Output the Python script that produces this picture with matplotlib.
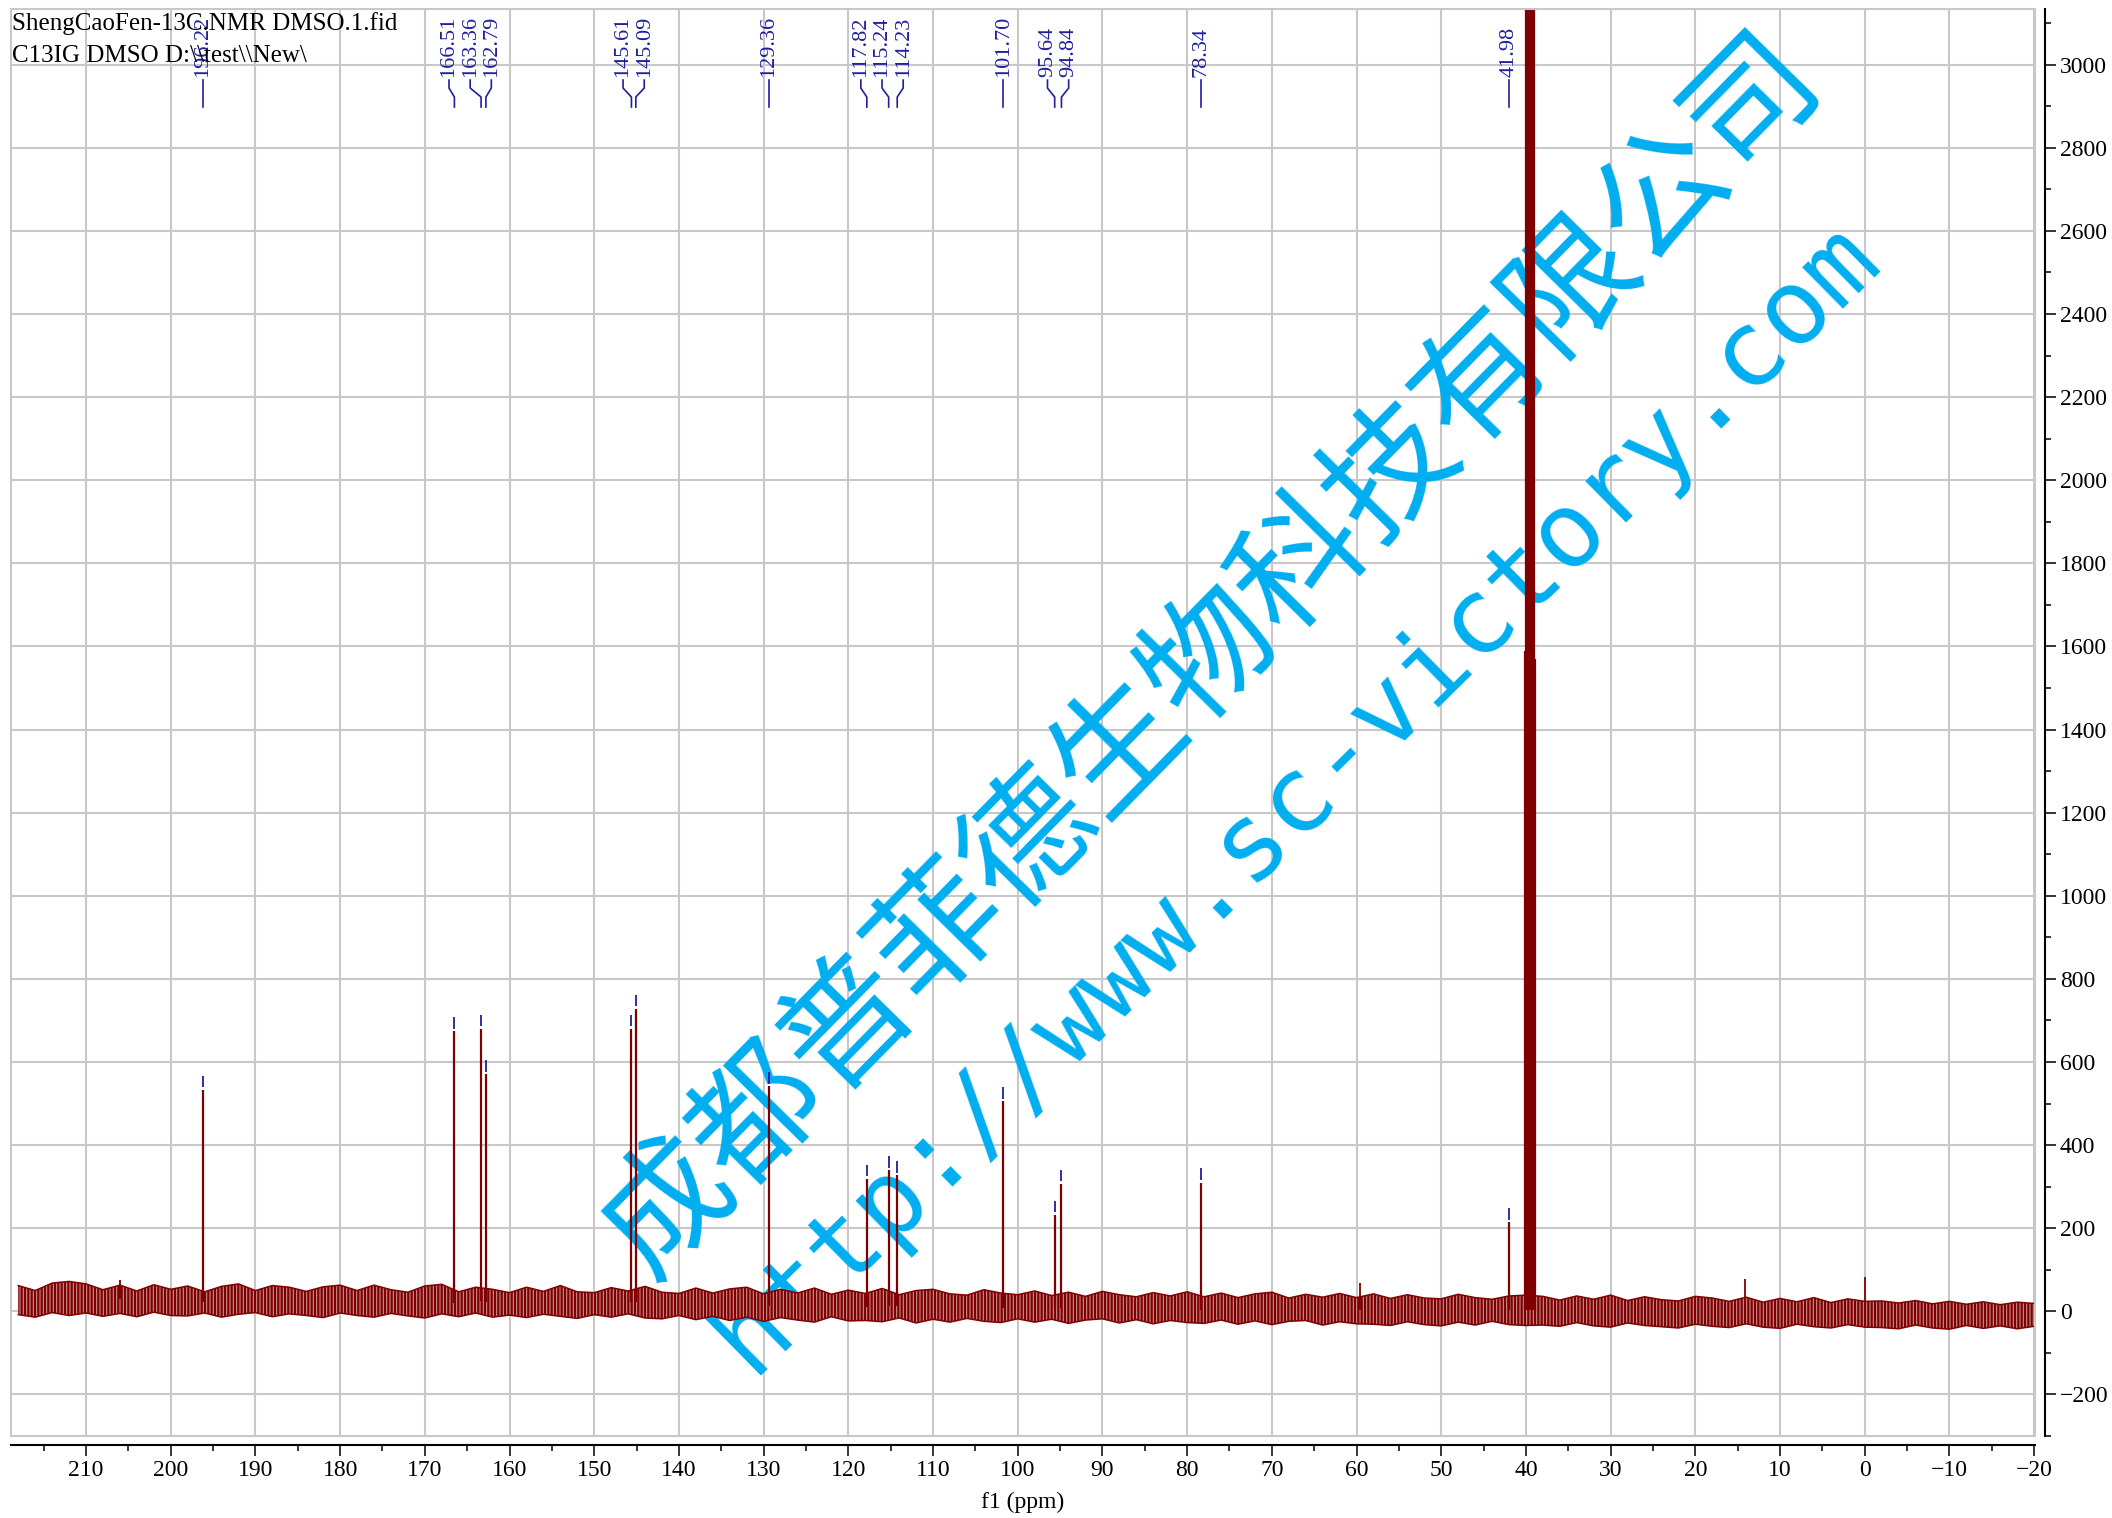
import numpy as np
import matplotlib.pyplot as plt
from matplotlib.patches import Rectangle
from matplotlib.ticker import MultipleLocator

plt.rcParams['font.family'] = ['Liberation Serif', 'DejaVu Serif']
plt.rcParams['hatch.linewidth'] = 1.6

# labelled peaks: shift (ppm) and height
peak_ppm = [196.22, 166.51, 163.36, 162.79, 145.61, 145.09, 129.36, 117.82,
            115.24, 114.23, 101.70, 95.64, 94.84, 78.34, 41.98]
peak_int = [533, 674, 680, 571, 680, 728, 542, 319,
            340, 327, 505, 232, 307, 310, 214]

# DMSO-d6 septet, the inner lines go off the top
dmso_ppm = [40.15, 39.94, 39.73, 39.52, 39.31, 39.10, 38.89]
dmso_int = [1590, 4800, 9500, 11000, 9500, 4800, 1570]

# small unlabelled spikes sticking out of the noise
spike_ppm = [206.0, 59.6, 14.1, 0.0]
spike_int = [75, 68, 77, 82]

# noise band of the baseline, read every 2 ppm (218 -> -20)
band_ppm = np.arange(218, -21, -2)
band_hi = [62, 50, 68, 72, 66, 52, 63, 49, 64, 53,
           61, 47, 60, 66, 50, 62, 58, 48, 59, 63,
           50, 63, 52, 46, 61, 65, 47, 58, 53, 45,
           58, 48, 62, 47, 45, 57, 49, 60, 46, 43,
           56, 44, 54, 58, 42, 53, 44, 56, 41, 51,
           43, 55, 40, 50, 53, 42, 39, 52, 44, 40,
           49, 38, 46, 36, 48, 40, 35, 45, 37, 47,
           35, 44, 33, 42, 46, 32, 41, 34, 43, 33,
           42, 31, 40, 32, 30, 41, 33, 29, 37, 39,
           36, 27, 37, 29, 39, 26, 35, 28, 25, 36,
           32, 24, 34, 22, 31, 23, 33, 21, 30, 24,
           25, 20, 26, 18, 24, 17, 23, 16, 22, 19]
band_lo = [-8, -14, -3, -10, -4, -12, -5, -13, -2, -10,
           -11, -4, -14, -7, -3, -13, -6, -10, -15, -4,
           -10, -14, -5, -11, -16, -6, -13, -4, -14, -9,
           -15, -7, -12, -17, -8, -14, -6, -16, -18, -10,
           -20, -12, -22, -14, -24, -15, -21, -26, -13, -23,
           -22, -25, -16, -28, -19, -26, -17, -24, -27, -18,
           -26, -19, -29, -21, -18, -28, -20, -30, -22, -27,
           -29, -21, -31, -23, -32, -24, -22, -33, -25, -30,
           -31, -34, -25, -32, -35, -26, -33, -24, -32, -34,
           -33, -36, -27, -35, -38, -28, -34, -37, -40, -31,
           -36, -39, -30, -38, -41, -31, -37, -40, -32, -38,
           -39, -42, -33, -40, -43, -34, -41, -35, -42, -36]

header = ["ShengCaoFen-13C.NMR DMSO.1.fid", "C13IG DMSO D:\\\\test\\\\New\\"]

red = '#800000'
blue = '#1f1f9f'
wm = '#00aeef'
gridc = '#c8c8c8'

fig = plt.figure(figsize=(21.12, 15.18), dpi=100)
ax = fig.add_axes([11/2112, 1 - 1436/1518, 2024/2112, 1427/1518])
ax.set_xlim(218.86, -20.1)
ax.set_ylim(-300, 3134)

# baseline noise: pale fill with dense red hatching to look like the noise
ax.fill_between(band_ppm, band_lo, band_hi, facecolor='#c89090', edgecolor=red,
                hatch='|||||', lw=0, zorder=2)
ax.plot(band_ppm, band_hi, color=red, lw=1.1, zorder=2.1)
ax.plot(band_ppm, band_lo, color=red, lw=1.1, zorder=2.1)

base = (np.array(band_hi) + np.array(band_lo)) / 2
def base_at(p):
    return np.interp(p, band_ppm[::-1], base[::-1])

ax.vlines(peak_ppm, base_at(peak_ppm), peak_int, color=red, lw=1.6, zorder=2.2)
ax.vlines(dmso_ppm, base_at(dmso_ppm), dmso_int, color=red, lw=1.6, zorder=2.2)
ax.vlines(spike_ppm, base_at(spike_ppm), spike_int, color=red, lw=1.3, zorder=2.2)

# small blue marks over each picked peak
ax.vlines(peak_ppm, np.array(peak_int) + 6, np.array(peak_int) + 34, color=blue, lw=1.3, zorder=2.3)

# peak labels on top, spread out when peaks are close
groups = []
for p in sorted(peak_ppm, reverse=True):
    if groups and groups[-1][-1] - p < 4:
        groups[-1].append(p)
    else:
        groups.append([p])
label_x = {}
for g in groups:
    mid = (g[0] + g[-1]) / 2
    for i, p in enumerate(g):
        label_x[p] = mid + ((len(g) - 1) / 2 - i) * 2.5

tr = ax.get_xaxis_transform()
for p in peak_ppm:
    lx = label_x[p]
    ax.text(lx, 0.9523, f'{p:.2f}', rotation=90, ha='center', va='bottom',
            transform=tr, color=blue, fontsize=16, clip_on=False, zorder=4)
    ax.plot([lx, lx, p, p], [0.9502, 0.9446, 0.9383, 0.9313], transform=tr,
            color=blue, lw=1.2, clip_on=False, zorder=4)

# watermark, sits under the spectrum
ax.text(1212/2112, 1 - 656/1518, '成都普菲德生物科技有限公司', transform=fig.transFigure,
        rotation=45.5, rotation_mode='anchor', ha='center', va='center',
        fontsize=93, color=wm, family=['Noto Sans CJK SC', 'DejaVu Sans'], zorder=1.5)
ax.text(1296/2112, 1 - 797/1518, 'http://www.sc-victory.com', transform=fig.transFigure,
        rotation=44.6, rotation_mode='anchor', ha='center', va='center',
        fontsize=76, color=wm, family=['DejaVu Sans Mono'], zorder=1.5)

# grid and frame
ax.set_axisbelow(True)
ax.grid(True, which='major', color=gridc, lw=1.5)
ax.add_patch(Rectangle((0, 0), 1, 1, transform=ax.transAxes, fill=False,
                       ec=gridc, lw=1.5, zorder=3, clip_on=False))

ax.xaxis.set_major_locator(MultipleLocator(10))
ax.xaxis.set_minor_locator(MultipleLocator(5))
ax.yaxis.set_major_locator(MultipleLocator(200))
ax.yaxis.set_minor_locator(MultipleLocator(100))
ax.yaxis.tick_right()

ax.spines['top'].set_visible(False)
ax.spines['left'].set_visible(False)
ax.spines['bottom'].set_position(('outward', 6.5))
ax.spines['right'].set_position(('outward', 7))
for s in ['bottom', 'right']:
    ax.spines[s].set_linewidth(1.5)
    ax.spines[s].set_color('black')

ax.tick_params(axis='both', which='major', length=8, width=1.1, direction='out',
               labelsize=17, pad=3)
ax.tick_params(axis='both', which='minor', length=4, width=1.1, direction='out')
ax.tick_params(axis='y', which='both', left=False, right=True, labelleft=False, labelright=True)

fig.text(1023/2112, 1 - 1502/1518, 'f1 (ppm)', ha='center', va='center', fontsize=17)
fig.text(12/2112, 1 - 30/1518, header[0], ha='left', va='baseline', fontsize=18)
fig.text(12/2112, 1 - 62/1518, header[1], ha='left', va='baseline', fontsize=18)

fig.savefig('out.png', dpi=100)
